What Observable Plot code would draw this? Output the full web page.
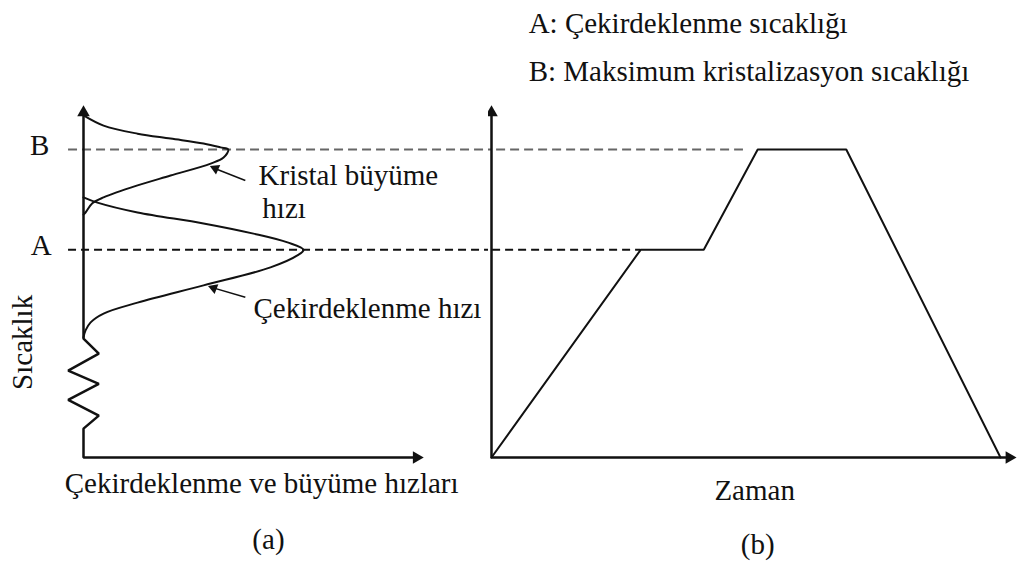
<!DOCTYPE html>
<html>
<head>
<meta charset="utf-8">
<script src="https://cdn.jsdelivr.net/npm/d3@7"></script>
<script src="https://cdn.jsdelivr.net/npm/@observablehq/plot@0.6"></script>
<style>
  html, body { margin: 0; padding: 0; background: #fff; overflow: hidden; }
  #wrap { display: flex; width: 1017px; height: 562px; }
  #wrap svg { flex: none; }
  #wrap svg text { font-family: "Liberation Serif", "Times New Roman", Times, serif !important; }
</style>
</head>
<body>
<div id="wrap"></div>
<script>
// ---- Levels (temperature, arbitrary units 0–100) ----
const A = 59;     // Çekirdeklenme sıcaklığı
const B = 87.5;   // Maksimum kristalizasyon sıcaklığı

// ---- (a) Crystal growth rate curve ----
const growthRate = [0, 5.9, 15.9, 25.6, 35.3, 40.3, 42.6, 41.2, 37.4, 25.6, 15.9, 5.9, 2.6, 0.6, 0];
const growthTemp = [97.2, 94.3, 92.0, 90.6, 89.2, 88.1, B, 85.2, 83.5, 80.1, 77.3, 73.9, 72.2, 69.6, 69];

// ---- (a) Nucleation rate curve ----
const nuclRate = [0, 4.1, 15.9, 35.3, 50, 60, 64.7, 62.9, 55, 35.3, 15.9, 5.9, 2.1, 0.6, 0];
const nuclTemp = [73.9, 72.4, 69.6, 66.5, 63.6, 61.1, A, 57.4, 54, 48.9, 44.0, 40.9, 38.4, 36.1, 34.1];

// ---- (a) axis with break (zigzag) ----
const axisRate = [0, 0, 4.5, -4.5, 4.5, -4.5, 4.5, 0, 0, 98];
const axisTemp = [98, 33.8, 29.5, 24.7, 20.9, 16.4, 11.9, 8.2, 0, 0];

// ---- (b) temperature schedule ----
const time = [0, 29.3, 41.7, 52.3, 69.7, 100];
const temp = [0, A, A, B, B, 0];

// ---- label arrows in (a): tail (x1,y1) -> head (x2,y2) ----
const arrowTail = [[47.6, 78.7], [47.6, 45.5]];
const arrowHead = [[37.9, 82.4], [37.4, 48.4]];

// ---- texts ----
const labelLevels = ["B", "A"];
const leftLabelText = ["Kristal büyüme", "hızı", "Çekirdeklenme hızı"];
const leftLabelPos = [[51.5, 77.3], [52.6, 67.9], [50, 39.5]];
const yTitle = "Sıcaklık";
const xTitleA = "Çekirdeklenme ve büyüme hızları";
const xTitleB = "Zaman";
const panelA = "(a)";
const panelB = "(b)";
const legendLines = ["A: Çekirdeklenme sıcaklığı", "B: Maksimum kristalizasyon sıcaklığı"];
const legendPos = [[7.3, 120.5], [7.3, 107.1]];

const ink = "#111";
const font = "Liberation Serif, Times New Roman, serif";
const fs = 29;
const pts = (xs, ys) => xs.map((x, i) => ({x, y: ys[i]}));
const txt = {fontSize: fs, fill: ink, fontFamily: font};

const left = Plot.plot({
  width: 488, height: 562,
  marginLeft: 83, marginRight: 65, marginTop: 105, marginBottom: 105,
  x: {domain: [0, 100], axis: null},
  y: {domain: [0, 100], axis: null},
  style: {fontFamily: font, background: "white"},
  marks: [
    Plot.ruleY([B], {x1: -4.4, x2: 130, stroke: "#666", strokeWidth: 2, strokeDasharray: "9,5"}),
    Plot.ruleY([A], {x1: -4.4, x2: 130, stroke: ink, strokeWidth: 2, strokeDasharray: "8,5"}),
    Plot.line(pts(axisRate, axisTemp), {x: "x", y: "y", stroke: ink, strokeWidth: 2.5, strokeLinejoin: "miter"}),
    Plot.dot([{x: 0, y: 100}], {x: "x", y: "y", symbol: "triangle2", r: 6, fill: ink, stroke: "none", dy: 7}),
    Plot.dot([{x: 100, y: 0}], {x: "x", y: "y", symbol: "triangle2", r: 6, fill: ink, stroke: "none", rotate: 90, dx: -7}),
    Plot.line(pts(growthRate, growthTemp), {x: "x", y: "y", curve: "catmull-rom", stroke: ink, strokeWidth: 2}),
    Plot.line(pts(nuclRate, nuclTemp), {x: "x", y: "y", curve: "catmull-rom", stroke: ink, strokeWidth: 2}),
    Plot.link(arrowTail.map((t, i) => ({x1: t[0], y1: t[1], x2: arrowHead[i][0], y2: arrowHead[i][1]})),
      {x1: "x1", y1: "y1", x2: "x2", y2: "y2", stroke: ink, strokeWidth: 1.5}),
    Plot.dot(arrowHead.map((h, i) => ({x: h[0], y: h[1], a: i === 0 ? -66 : -69})),
      {x: "x", y: "y", symbol: "triangle2", r: 5, fill: ink, stroke: "none", rotate: "a", dx: 3, dy: 1}),
    Plot.text(labelLevels.map((t, i) => ({t, x: i === 0 ? -12.9 : -12.4, y: i === 0 ? B : A})),
      {x: "x", y: "y", text: "t", textAnchor: "middle", lineAnchor: "bottom", dy: 5, ...txt}),
    Plot.text(leftLabelText.map((t, i) => ({t, x: leftLabelPos[i][0], y: leftLabelPos[i][1]})),
      {x: "x", y: "y", text: "t", textAnchor: "start", lineAnchor: "bottom", ...txt}),
    Plot.text([yTitle], {x: -17.9, y: 32.7, text: d => d, rotate: -90, textAnchor: "middle", lineAnchor: "middle", ...txt}),
    Plot.text([xTitleA], {x: 52.4, y: -10.2, text: d => d, textAnchor: "middle", lineAnchor: "bottom", ...txt}),
    Plot.text([panelA], {x: 54.4, y: -25.9, text: d => d, textAnchor: "middle", lineAnchor: "bottom", ...txt})
  ]
});

const right = Plot.plot({
  width: 529, height: 562,
  marginLeft: 3, marginRight: 17, marginTop: 105, marginBottom: 105,
  x: {domain: [0, 100], axis: null},
  y: {domain: [0, 100], axis: null},
  style: {fontFamily: font, background: "white"},
  marks: [
    Plot.ruleY([B], {x1: -10, x2: 49.5, stroke: "#666", strokeWidth: 2, strokeDasharray: "9,5"}),
    Plot.ruleY([A], {x1: -10, x2: time[1], stroke: ink, strokeWidth: 2, strokeDasharray: "8,5"}),
    Plot.line([{x: 0, y: 98}, {x: 0, y: 0}, {x: 101, y: 0}], {x: "x", y: "y", stroke: ink, strokeWidth: 2.5}),
    Plot.dot([{x: 0, y: 100}], {x: "x", y: "y", symbol: "triangle2", r: 6, fill: ink, stroke: "none", dy: 7}),
    Plot.dot([{x: 103.1, y: 0}], {x: "x", y: "y", symbol: "triangle2", r: 6, fill: ink, stroke: "none", rotate: 90, dx: -7}),
    Plot.line(pts(time, temp), {x: "x", y: "y", stroke: ink, strokeWidth: 2, strokeLinejoin: "miter"}),
    Plot.text(legendLines.map((t, i) => ({t, x: legendPos[i][0], y: legendPos[i][1]})),
      {x: "x", y: "y", text: "t", textAnchor: "start", lineAnchor: "bottom", ...txt}),
    Plot.text([xTitleB], {x: 51.7, y: -12.2, text: d => d, textAnchor: "middle", lineAnchor: "bottom", ...txt}),
    Plot.text([panelB], {x: 52.3, y: -27.3, text: d => d, textAnchor: "middle", lineAnchor: "bottom", ...txt})
  ]
});

const wrap = document.getElementById("wrap");
wrap.appendChild(left);
wrap.appendChild(right);
</script>
</body>
</html>
